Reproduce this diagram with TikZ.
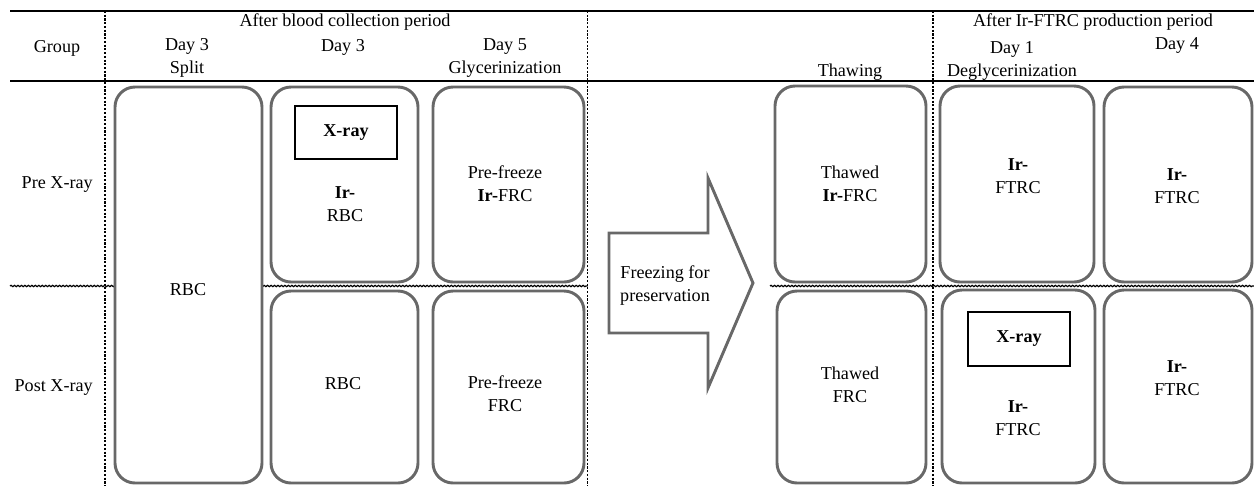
\documentclass[tikz,border=0pt]{standalone}
\usepackage{fontspec}
\setmainfont{Liberation Serif}
\usetikzlibrary{decorations.pathmorphing}

\begin{document}
\begin{tikzpicture}[x=0.75pt,y=0.75pt,yscale=-1,xscale=1,
  every node/.style={font=\fontsize{13.6}{17.2}\selectfont, inner sep=0.75pt, align=center},
  stage/.style={draw={rgb,255:red,104;green,104;blue,104}, line width=2.2pt, rounded corners=15pt, fill=white},
  xraybox/.style={draw=black, line width=0.9pt, fill=white},
  rule/.style={draw=black, line width=1.3pt},
  vsep/.style={draw=black, line width=1.2pt, dash pattern={on 1.6pt off 1.2pt}},
  hsep/.style={draw=black, line width=0.9pt, decorate, decoration={snake, amplitude=0.5pt, segment length=2.6pt}}]
\useasboundingbox (0,0) rectangle (1254,486);

%Straight Lines: header rules
\draw [rule] (10,11) -- (1254,11) ;
\draw [rule] (10,81) -- (1254,81) ;
%Straight Lines: dotted separators
\draw [vsep] (105,11) -- (105,486) ;
\draw [vsep] (587.5,11) -- (587.5,486) ;
\draw [vsep] (933,11) -- (933,486) ;
\draw [hsep] (10,286) -- (587.5,286) ;
\draw [hsep] (770,286) -- (1254,286) ;

%Rounded Rect: Day 3 split
\draw [stage] (115,87) rectangle (262,483) ;
%Rounded Rect: Day 3
\draw [stage] (271,87) rectangle (418,282) ;
\draw [stage] (271,291) rectangle (418,483) ;
%Rounded Rect: Day 5
\draw [stage] (433,87) rectangle (584,282) ;
\draw [stage] (433,291) rectangle (584,483) ;
%Rounded Rect: thawing
\draw [stage] (775,86) rectangle (926,282) ;
\draw [stage] (777,291) rectangle (926,483) ;
%Rounded Rect: Day 1
\draw [stage] (940,86) rectangle (1094,282) ;
\draw [stage] (942,290) rectangle (1095,483) ;
%Rounded Rect: Day 4
\draw [stage] (1104,87) rectangle (1252,282) ;
\draw [stage] (1104,290) rectangle (1252,483) ;

%Shape: Right Arrow
\draw [stage, rounded corners=0pt] (609,233) -- (708,233) -- (708,178) -- (753,283) -- (708,388) -- (708,333) -- (609,333) -- cycle ;

%Shape: Rectangle (X-ray)
\draw [xraybox] (295,106) rectangle (397,159) ;
\draw [xraybox] (968,312) rectangle (1070,366) ;

% Text Node
\draw (345,22) node (hblood) {After blood collection period};
% Text Node
\draw (1093,22) node (hftrc) {After Ir-FTRC production period};
% Text Node
\draw (57,48) node (hgroup) {Group};
% Text Node
\draw (187,58) node (hsplit) {Day 3\\Split};
% Text Node
\draw (343,47) node (hday3) {Day 3};
% Text Node
\draw (505,58) node (hglyc) {Day 5\\Glycerinization};
% Text Node
\draw (850,72) node (hthaw) {Thawing};
% Text Node
\draw (1012,61) node (hdeglyc) {Day 1\\Deglycerinization};
% Text Node
\draw (1177,45) node (hday4) {Day 4};

% Text Node
\draw (94,185) node [anchor=east] (lpre) {Pre X-ray};
% Text Node
\draw (94,388) node [anchor=east] (lpost) {Post X-ray};

% Text Node
\draw (188,290) node (rbcsplit) {RBC};
% Text Node
\draw (346,133) node (xrayA) {\textbf{X-ray}};
% Text Node
\draw (345,204) node (irrbc) {\textbf{Ir-}\\RBC};
% Text Node
\draw (343,384) node (rbc) {RBC};
% Text Node
\draw (505,184) node (pfirfrc) {Pre-freeze\\\textbf{Ir-}FRC};
% Text Node
\draw (505,394) node (pffrc) {Pre-freeze\\FRC};
% Text Node
\draw (665,286) node (freeze) {Freezing for\\preservation};
% Text Node
\draw (850,184) node (thirfrc) {Thawed\\\textbf{Ir-}FRC};
% Text Node
\draw (850,385) node (thfrc) {Thawed\\FRC};
% Text Node
\draw (1018,176) node (dayoneA) {\textbf{Ir-}\\FTRC};
% Text Node
\draw (1019,339) node (xrayB) {\textbf{X-ray}};
% Text Node
\draw (1018,418) node (dayoneB) {\textbf{Ir-}\\FTRC};
% Text Node
\draw (1177,186) node (dayfourA) {\textbf{Ir-}\\FTRC};
% Text Node
\draw (1177,378) node (dayfourB) {\textbf{Ir-}\\FTRC};

\end{tikzpicture}
\end{document}
